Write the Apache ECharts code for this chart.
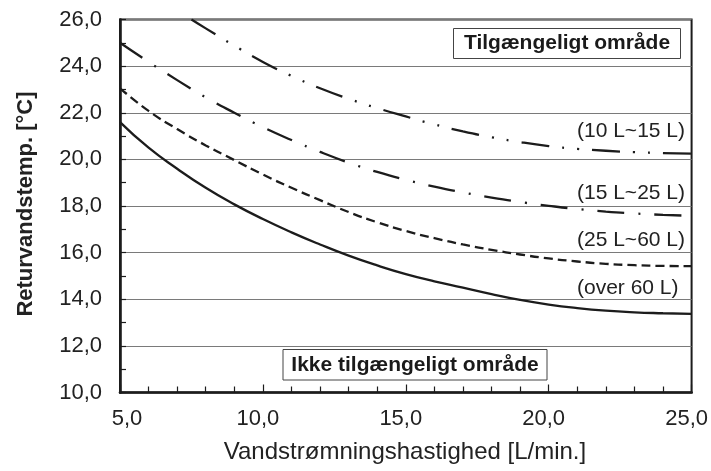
<!DOCTYPE html>
<html>
<head>
<meta charset="utf-8">
<script src="https://cdn.jsdelivr.net/npm/echarts@6/dist/echarts.min.js"></script>
<style>
  html, body { margin: 0; padding: 0; background: #fff; }
  #chart { width: 711px; height: 471px; }
</style>
</head>
<body>
<div id="chart"></div>
<script>
// Flow rate [L/min] sample points
const flowRate = [5, 6, 7, 8, 9, 10, 11, 12, 13, 14, 15, 16, 17, 18, 19, 20, 21, 22, 23, 24, 25];
const flowRate10to15 = [7.5, 8, 9, 10, 11, 12, 13, 14, 15, 16, 17, 18, 19, 20, 21, 22, 23, 24, 25];

// Minimum return water temperature [°C] per tank volume
const temp10to15 = [26.0, 25.62, 24.88, 24.18, 23.58, 23.05, 22.6, 22.2, 21.84, 21.5, 21.2, 20.95, 20.74, 20.57, 20.45, 20.37, 20.31, 20.27, 20.25];
const temp15to25 = [25.0, 24.18, 23.4, 22.66, 22.0, 21.38, 20.83, 20.32, 19.86, 19.46, 19.12, 18.83, 18.58, 18.36, 18.17, 18.01, 17.87, 17.76, 17.68, 17.62, 17.58];
const temp25to60 = [23.05, 22.08, 21.3, 20.6, 19.97, 19.35, 18.78, 18.25, 17.74, 17.3, 16.93, 16.62, 16.35, 16.12, 15.92, 15.75, 15.62, 15.52, 15.46, 15.43, 15.42];
const tempOver60 = [21.6, 20.5, 19.6, 18.78, 18.07, 17.44, 16.87, 16.35, 15.87, 15.45, 15.08, 14.77, 14.5, 14.22, 13.97, 13.77, 13.62, 13.51, 13.44, 13.4, 13.37];

const seriesNames = ['(10 L~15 L)', '(15 L~25 L)', '(25 L~60 L)', '(over 60 L)'];
const xTitle = 'Vandstrømningshastighed [L/min.]';
const yTitle = 'Returvandstemp. [°C]';
const okText = 'Tilgængeligt område';
const notOkText = 'Ikke tilgængeligt område';

const FONT = '"Liberation Sans", Arial, Helvetica, sans-serif';
const INK = '#1c1c1c';

const pairs = (xs, ys) => xs.map((x, i) => [x, ys[i]]);
const comma = v => v.toFixed(1).replace('.', ',');

function curve(name, xs, ys, dash) {
  return {
    name: name,
    type: 'line',
    data: pairs(xs, ys),
    smooth: 0.5,
    showSymbol: false,
    clip: true,
    lineStyle: { color: INK, width: 2.3, type: dash, cap: 'butt' },
    emphasis: { disabled: true }
  };
}

const chart = echarts.init(document.getElementById('chart'), null, { renderer: 'canvas' });

chart.setOption({
  animation: false,
  backgroundColor: '#fff',
  grid: {
    left: 120, right: 14, top: 19.5, bottom: 78.5,
    show: true, borderColor: INK, borderWidth: 2, backgroundColor: 'transparent'
  },
  xAxis: {
    type: 'value',
    min: 5, max: 25, interval: 5,
    axisLine: { show: true, lineStyle: { color: INK, width: 2.6 } },
    axisTick: { show: true, inside: true, length: 8, lineStyle: { color: INK, width: 1.2 } },
    minorTick: { show: true, splitNumber: 5, length: 6, lineStyle: { color: INK, width: 1.2 } },
    splitLine: { show: false },
    axisLabel: {
      margin: 15,
      fontFamily: FONT, fontSize: 22, color: '#222',
      formatter: v => (v === 5 ? '{f|' + comma(v) + '}' : '{n|' + comma(v) + '}'),
      rich: {
        f: { fontFamily: FONT, fontSize: 22, color: '#222', padding: [0, 0, 0, 14] },
        n: { fontFamily: FONT, fontSize: 22, color: '#222', padding: [0, 10, 0, 0] }
      }
    }
  },
  yAxis: {
    type: 'value',
    min: 10, max: 26, interval: 2,
    axisLine: { show: true, lineStyle: { color: INK, width: 2.6 } },
    axisTick: { show: true, inside: true, length: 6, lineStyle: { color: INK, width: 1.2 } },
    minorTick: { show: true, splitNumber: 2, length: 6, lineStyle: { color: INK, width: 1.2 } },
    splitLine: { show: true, lineStyle: { color: '#7a7a7a', width: 1.2 } },
    axisLabel: {
      margin: 18,
      fontFamily: FONT, fontSize: 22, color: '#222',
      formatter: v => comma(v)
    }
  },
  series: [
    curve(seriesNames[0], flowRate10to15, temp10to15, [28, 13, 2, 13, 2, 13]),
    curve(seriesNames[1], flowRate, temp15to25, [27, 14, 2, 14]),
    curve(seriesNames[2], flowRate, temp25to60, [9, 5]),
    curve(seriesNames[3], flowRate, tempOver60, 'solid')
  ],
  graphic: [
    {
      type: 'text', x: 26, y: 204, rotation: Math.PI / 2,
      style: { text: yTitle, font: 'bold 22px ' + FONT, fill: '#222', textAlign: 'center', textVerticalAlign: 'middle' }
    },
    {
      type: 'text', x: 405, y: 452,
      style: { text: xTitle, font: '24px ' + FONT, fill: '#222', textAlign: 'center', textVerticalAlign: 'middle' }
    },
    {
      type: 'text', x: 577, y: 131.5,
      style: { text: seriesNames[0], font: '21px ' + FONT, fill: '#222', textAlign: 'left', textVerticalAlign: 'middle' }
    },
    {
      type: 'text', x: 577, y: 193,
      style: { text: seriesNames[1], font: '21px ' + FONT, fill: '#222', textAlign: 'left', textVerticalAlign: 'middle' }
    },
    {
      type: 'text', x: 577, y: 240,
      style: { text: seriesNames[2], font: '21px ' + FONT, fill: '#222', textAlign: 'left', textVerticalAlign: 'middle' }
    },
    {
      type: 'text', x: 577, y: 288.5,
      style: { text: seriesNames[3], font: '21px ' + FONT, fill: '#222', textAlign: 'left', textVerticalAlign: 'middle' }
    },
    {
      type: 'rect', shape: { x: 453.5, y: 28.5, width: 227, height: 30 },
      style: { fill: '#fff', stroke: '#444', lineWidth: 1 }, z: 10
    },
    {
      type: 'text', x: 567, y: 43.5, z: 11,
      style: { text: okText, font: 'bold 21px ' + FONT, fill: '#1a1a1a', textAlign: 'center', textVerticalAlign: 'middle' }
    },
    {
      type: 'rect', shape: { x: 283, y: 349.5, width: 264, height: 30.5 },
      style: { fill: '#fff', stroke: '#444', lineWidth: 1 }, z: 10
    },
    {
      type: 'text', x: 415, y: 365, z: 11,
      style: { text: notOkText, font: 'bold 21px ' + FONT, fill: '#1a1a1a', textAlign: 'center', textVerticalAlign: 'middle' }
    }
  ]
});
</script>
</body>
</html>
